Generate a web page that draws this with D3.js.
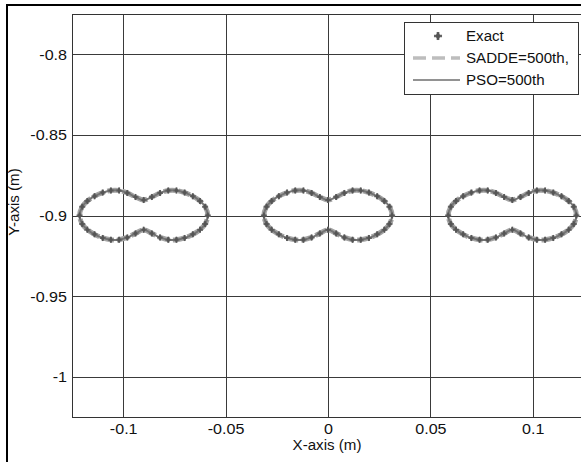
<!DOCTYPE html>
<html lang="en">
<head>
<meta charset="UTF-8">
<script src="https://d3js.org/d3.v7.min.js"></script>
<style>
    body { margin: 0; background: #fff; }
    svg text { font-family: "Liberation Sans", Arial, sans-serif; fill: #111; }
</style>
</head>
<body>
<svg id="chart" width="581" height="462"></svg>
<script>
// axis ticks
const xTicks = [-0.1, -0.05, 0, 0.05, 0.1];
const yTicks = [-0.8, -0.85, -0.9, -0.95, -1];
const xTickLabels = ["-0.1", "-0.05", "0", "0.05", "0.1"];
const yTickLabels = ["-0.8", "-0.85", "-0.9", "-0.95", "-1"];

// the three trajectories (same outline)
const centersX = [-0.09, 0, 0.09];
const centerY = -0.9;
const shapeDx = [-0.0313, -0.0300, -0.0275, -0.0240, -0.0200, -0.0160, -0.0120, -0.0080, -0.0040, 0,
                 0.0040, 0.0080, 0.0120, 0.0160, 0.0200, 0.0240, 0.0275, 0.0300, 0.0313];
const upperDy = [0, 0.0055, 0.0090, 0.0120, 0.0142, 0.0155, 0.0155, 0.0140, 0.0115, 0.0096,
                 0.0115, 0.0140, 0.0155, 0.0155, 0.0142, 0.0120, 0.0090, 0.0055, 0];
const lowerDy = [0, -0.0053, -0.0088, -0.0117, -0.0139, -0.0150, -0.0150, -0.0136, -0.0111, -0.0089,
                 -0.0111, -0.0136, -0.0150, -0.0150, -0.0139, -0.0117, -0.0088, -0.0053, 0];

const legendNames = ["Exact", "SADDE=500th,", "PSO=500th"];

const svg = d3.select("#chart");

// outer frame
svg.append("rect")
    .attr("x", 7).attr("y", 5)
    .attr("width", 600).attr("height", 500)
    .attr("fill", "none").attr("stroke", "#000").attr("stroke-width", 2);

const plotLeft = 72, plotRight = 584, plotTop = 14, plotBottom = 417;
const x = d3.scaleLinear().domain([-0.125, 0.125]).range([plotLeft, plotRight]);
const y = d3.scaleLinear().domain([-1.025, -0.775]).range([plotBottom, plotTop]);

// grid
const grid = svg.append("g").attr("stroke", "#3a3a3a").attr("stroke-width", 1);
grid.selectAll(".gx").data(xTicks).join("line")
    .attr("x1", d => Math.round(x(d)) + 0.5).attr("x2", d => Math.round(x(d)) + 0.5)
    .attr("y1", plotTop).attr("y2", plotBottom);
grid.selectAll(".gy").data(yTicks).join("line")
    .attr("y1", d => Math.round(y(d)) + 0.5).attr("y2", d => Math.round(y(d)) + 0.5)
    .attr("x1", plotLeft).attr("x2", plotRight);

// box
svg.append("rect")
    .attr("x", plotLeft + 0.5).attr("y", plotTop + 0.5)
    .attr("width", plotRight - plotLeft).attr("height", plotBottom - plotTop)
    .attr("fill", "none").attr("stroke", "#333").attr("stroke-width", 1);

// axes (labels only, stretched a little like the source font)
const xAxis = svg.append("g")
    .attr("transform", `translate(0,${plotBottom})`)
    .call(d3.axisBottom(x).tickValues(xTicks).tickSize(0).tickPadding(0)
        .tickFormat((d, i) => xTickLabels[i]));
xAxis.select(".domain").remove();
xAxis.selectAll("text")
    .attr("y", 0).attr("dy", null)
    .attr("transform", "translate(0,17) scale(1.15,1)")
    .style("font-size", "14px");

const yAxis = svg.append("g")
    .attr("transform", `translate(${plotLeft},0)`)
    .call(d3.axisLeft(y).tickValues(yTicks).tickSize(0).tickPadding(0)
        .tickFormat((d, i) => yTickLabels[i]));
yAxis.select(".domain").remove();
yAxis.selectAll("text")
    .attr("x", 0).attr("dy", null).attr("y", 0)
    .attr("transform", "translate(-5,5) scale(1.15,1)")
    .style("font-size", "14px");

svg.append("text")
    .attr("transform", "translate(327,450) scale(1.08,1)")
    .attr("text-anchor", "middle")
    .style("font-size", "14px")
    .text("X-axis (m)");

svg.append("text")
    .attr("transform", "translate(19,202) rotate(-90) scale(1.08,1)")
    .attr("text-anchor", "middle")
    .style("font-size", "14px")
    .text("Y-axis (m)");

// build outlines
const shapes = centersX.map(cx => {
    const pts = [];
    shapeDx.forEach((dx, i) => pts.push([cx + dx, centerY + upperDy[i]]));
    for (let i = shapeDx.length - 2; i >= 1; i--) pts.push([cx + shapeDx[i], centerY + lowerDy[i]]);
    return pts;
});

const line = d3.line()
    .x(d => x(d[0])).y(d => y(d[1]))
    .curve(d3.curveCatmullRomClosed);

const plot = svg.append("g");

// SADDE
plot.selectAll(".sadde").data(shapes).join("path")
    .attr("d", line)
    .attr("fill", "none").attr("stroke", "#a4a4a4").attr("stroke-width", 5)
    .attr("stroke-dasharray", "12,3");

// PSO
plot.selectAll(".pso").data(shapes).join("path")
    .attr("d", line)
    .attr("fill", "none").attr("stroke", "#747474").attr("stroke-width", 2);

// Exact markers
const cross = d3.symbol().type(d3.symbolCross).size(20);
const diamond = d3.symbol().type(d3.symbolDiamond).size(12);
function marker(g, s) {
    g.append("path").attr("d", d3.symbol().type(d3.symbolCross).size(20 * s)).attr("fill", "#666");
    g.append("path").attr("d", d3.symbol().type(d3.symbolDiamond).size(12 * s)).attr("fill", "#555");
}
shapes.forEach(pts => {
    plot.append("g").selectAll("g").data(pts).join("g")
        .attr("transform", d => `translate(${x(d[0])},${y(d[1])})`)
        .each(function () { marker(d3.select(this), 1); });
});

// legend
const lg = svg.append("g");
lg.append("rect")
    .attr("x", 404.5).attr("y", 22.5).attr("width", 174).attr("height", 72)
    .attr("fill", "#fff").attr("stroke", "#333").attr("stroke-width", 1);
const rowsY = [36, 58, 80];
marker(lg.append("g").attr("transform", `translate(438,${rowsY[0]})`), 1.8);
lg.append("line")
    .attr("x1", 413).attr("x2", 460).attr("y1", rowsY[1]).attr("y2", rowsY[1])
    .attr("stroke", "#bdbdbd").attr("stroke-width", 3.5).attr("stroke-dasharray", "13,6");
lg.append("line")
    .attr("x1", 413).attr("x2", 460).attr("y1", rowsY[2]).attr("y2", rowsY[2])
    .attr("stroke", "#6e6e6e").attr("stroke-width", 1.6);
lg.selectAll(".lt").data(legendNames).join("text")
    .attr("transform", (d, i) => `translate(466,${rowsY[i] + 5}) scale(1.08,1)`)
    .style("font-size", "14px")
    .text(d => d);
</script>
</body>
</html>
